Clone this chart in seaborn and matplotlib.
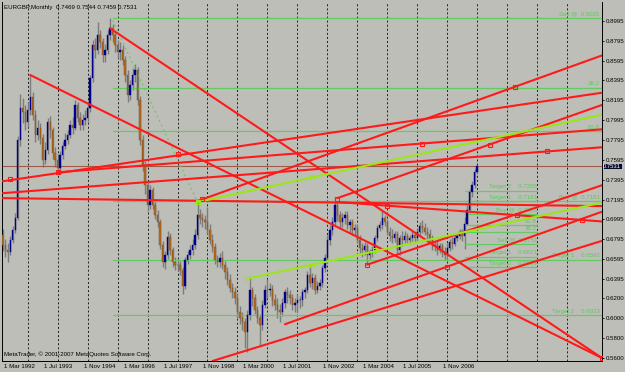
import numpy as np
import pandas as pd
import seaborn as sns
import matplotlib.pyplot as plt
import matplotlib.transforms as mtransforms

# ---- monthly EURGBP bars, Mar 1992 .. Jan 2008 ----
first_month = "1992-03"
first_open = 0.684

closes = [
    0.674, 0.669, 0.667, 0.679, 0.689, 0.701, 0.780, 0.812, 0.808, 0.798,                 # 1992
    0.810, 0.823, 0.805, 0.785, 0.792, 0.782, 0.759, 0.769, 0.798, 0.790, 0.766, 0.759,   # 1993
    0.751, 0.764, 0.774, 0.780, 0.785, 0.795, 0.792, 0.815, 0.802, 0.795, 0.800, 0.802,   # 1994
    0.812, 0.842, 0.875, 0.870, 0.885, 0.878, 0.865, 0.870, 0.885, 0.892, 0.885, 0.875,   # 1995
    0.868, 0.870, 0.860, 0.845, 0.825, 0.835, 0.845, 0.850, 0.820, 0.780, 0.754, 0.734,   # 1996
    0.714, 0.729, 0.714, 0.704, 0.697, 0.674, 0.657, 0.664, 0.682, 0.669, 0.657, 0.654,   # 1997
    0.654, 0.649, 0.633, 0.659, 0.664, 0.669, 0.674, 0.684, 0.704, 0.701, 0.699, 0.697,   # 1998
    0.689, 0.679, 0.672, 0.659, 0.657, 0.661, 0.654, 0.647, 0.639, 0.631, 0.626, 0.620,   # 1999
    0.606, 0.600, 0.596, 0.586, 0.603, 0.628, 0.620, 0.608, 0.600, 0.593, 0.613, 0.628,   # 2000
    0.628, 0.630, 0.618, 0.613, 0.608, 0.606, 0.615, 0.626, 0.623, 0.620, 0.613, 0.615,   # 2001
    0.618, 0.618, 0.626, 0.628, 0.644, 0.636, 0.641, 0.628, 0.633, 0.636, 0.651, 0.661,   # 2002
    0.679, 0.689, 0.697, 0.714, 0.704, 0.697, 0.701, 0.704, 0.694, 0.697, 0.689, 0.691,   # 2003
    0.679, 0.671, 0.669, 0.673, 0.664, 0.667, 0.669, 0.681, 0.691, 0.694, 0.701, 0.697,   # 2004
    0.687, 0.683, 0.681, 0.685, 0.669, 0.681, 0.679, 0.683, 0.679, 0.681, 0.684, 0.681,   # 2005
    0.687, 0.693, 0.691, 0.687, 0.685, 0.679, 0.673, 0.674, 0.669, 0.673, 0.667, 0.664,   # 2006
    0.671, 0.677, 0.675, 0.681, 0.683, 0.687, 0.683, 0.695, 0.709, 0.727, 0.734, 0.747,   # 2007
    0.7531,                                                                               # 2008
]
highs = [
    0.690, 0.680, 0.676, 0.683, 0.693, 0.706, 0.784, 0.826, 0.822, 0.815,
    0.818, 0.845, 0.828, 0.810, 0.800, 0.797, 0.786, 0.778, 0.802, 0.804, 0.793, 0.772,
    0.765, 0.768, 0.778, 0.787, 0.790, 0.800, 0.803, 0.820, 0.818, 0.808, 0.806, 0.810,
    0.818, 0.845, 0.880, 0.882, 0.898, 0.890, 0.882, 0.876, 0.890, 0.902, 0.896, 0.888,
    0.880, 0.878, 0.875, 0.864, 0.850, 0.840, 0.852, 0.856, 0.853, 0.824, 0.785, 0.758,
    0.738, 0.734, 0.732, 0.718, 0.709, 0.700, 0.678, 0.668, 0.688, 0.686, 0.672, 0.662,
    0.660, 0.658, 0.652, 0.662, 0.668, 0.674, 0.680, 0.690, 0.718, 0.710, 0.706, 0.704,
    0.712, 0.695, 0.685, 0.676, 0.664, 0.666, 0.668, 0.658, 0.652, 0.645, 0.636, 0.632,
    0.625, 0.612, 0.606, 0.600, 0.608, 0.641, 0.632, 0.624, 0.612, 0.604, 0.618, 0.634,
    0.640, 0.636, 0.634, 0.624, 0.620, 0.614, 0.620, 0.630, 0.632, 0.628, 0.624, 0.620,
    0.624, 0.622, 0.630, 0.632, 0.648, 0.655, 0.646, 0.645, 0.638, 0.640, 0.654, 0.665,
    0.684, 0.694, 0.702, 0.722, 0.718, 0.708, 0.706, 0.708, 0.708, 0.700, 0.700, 0.695,
    0.695, 0.684, 0.676, 0.677, 0.676, 0.670, 0.673, 0.684, 0.694, 0.698, 0.708, 0.704,
    0.700, 0.692, 0.690, 0.688, 0.688, 0.684, 0.688, 0.688, 0.686, 0.684, 0.688, 0.687,
    0.690, 0.697, 0.699, 0.696, 0.692, 0.690, 0.684, 0.678, 0.678, 0.676, 0.676, 0.672,
    0.676, 0.680, 0.682, 0.684, 0.686, 0.690, 0.690, 0.702, 0.714, 0.730, 0.738, 0.750,
    0.7544,
]
lows = [
    0.668, 0.662, 0.657, 0.664, 0.676, 0.686, 0.699, 0.774, 0.797, 0.790,
    0.793, 0.805, 0.800, 0.778, 0.780, 0.776, 0.752, 0.755, 0.765, 0.782, 0.760, 0.752,
    0.745, 0.748, 0.760, 0.770, 0.776, 0.782, 0.786, 0.790, 0.798, 0.790, 0.790, 0.795,
    0.798, 0.808, 0.838, 0.862, 0.866, 0.872, 0.858, 0.858, 0.866, 0.880, 0.878, 0.868,
    0.862, 0.860, 0.855, 0.838, 0.818, 0.820, 0.830, 0.838, 0.815, 0.775, 0.748, 0.725,
    0.708, 0.710, 0.710, 0.700, 0.692, 0.670, 0.652, 0.650, 0.660, 0.664, 0.652, 0.649,
    0.648, 0.644, 0.624, 0.630, 0.655, 0.660, 0.664, 0.670, 0.680, 0.695, 0.692, 0.690,
    0.685, 0.675, 0.667, 0.655, 0.652, 0.652, 0.650, 0.640, 0.634, 0.626, 0.620, 0.614,
    0.600, 0.594, 0.588, 0.570, 0.566, 0.598, 0.612, 0.604, 0.595, 0.573, 0.588, 0.610,
    0.620, 0.622, 0.612, 0.608, 0.600, 0.596, 0.602, 0.610, 0.615, 0.614, 0.608, 0.606,
    0.606, 0.610, 0.612, 0.620, 0.625, 0.632, 0.630, 0.624, 0.625, 0.628, 0.632, 0.647,
    0.656, 0.674, 0.684, 0.694, 0.698, 0.690, 0.692, 0.695, 0.690, 0.686, 0.684, 0.684,
    0.676, 0.666, 0.662, 0.664, 0.656, 0.660, 0.662, 0.666, 0.678, 0.688, 0.690, 0.693,
    0.684, 0.678, 0.676, 0.677, 0.666, 0.664, 0.673, 0.676, 0.676, 0.675, 0.678, 0.676,
    0.677, 0.683, 0.686, 0.684, 0.680, 0.676, 0.669, 0.668, 0.664, 0.666, 0.662, 0.659,
    0.660, 0.668, 0.670, 0.673, 0.678, 0.680, 0.678, 0.670, 0.694, 0.706, 0.722, 0.731,
    0.7459,
]
last_open = 0.7469

# ---- drawn objects (anchor dates / prices) ----
red_from_date = ["1993-02", "1995-10", "1992-03", "1994-01", "1992-03", "1992-03",
                 "1998-09", "2003-05", "1999-03", "2001-08", "2004-05", "2003-05"]
red_from_price = [0.845, 0.892, 0.738, 0.747, 0.726, 0.721,
                  0.718, 0.721, 0.557, 0.594, 0.654, 0.7171]
red_to_date = ["2012-03", "2012-03", "1998-01", "2006-03", "2010-05", "2012-03",
               "2009-04", "2008-06", "2012-03", "2007-01", "2012-03", "2011-07"]
red_to_price = [0.560, 0.560, 0.764, 0.776, 0.768, 0.713,
                0.833, 0.775, 0.678, 0.652, 0.734, 0.6990]
red_ray = [False, False, True, True, True, False, True, True, False, True, False, True]

lime_from_date = ["1998-09", "2000-05"]
lime_from_price = [0.717, 0.640]
lime_to_date = ["2002-07", "2002-07"]
lime_to_price = [0.742, 0.654]

dotted_dates = ["1995-11", "1998-09"]
dotted_prices = [0.900, 0.717]

red_marker_dates = ["1992-06", "1994-01", "1998-01", "1998-11", "2003-05", "2005-01", "2006-03",
                    "2008-06", "2009-04", "2010-05", "2004-05", "2007-01", "2009-05", "2011-07", "2012-03"]
red_marker_prices = [0.740, 0.747, 0.765, 0.720, 0.720, 0.7134, 0.776,
                     0.775, 0.833, 0.768, 0.654, 0.652, 0.7038, 0.6990, 0.560]
lime_marker_dates = ["1998-09", "2002-07", "2006-05", "2000-05", "2002-07", "2004-08"]
lime_marker_prices = [0.717, 0.742, 0.766, 0.640, 0.654, 0.669]

levels_long = [0.9025, 0.8320, 0.7885, 0.7181, 0.6592, 0.6033]
labels_long = ["Sell @  0.9025", "38.2", "61.8", "Buy @  0.7181", "Target 1    0.6592", "Target 2    0.6033"]
levels_short = [0.7285, 0.7183, 0.7053, 0.6938, 0.6866, 0.6751, 0.6621, 0.6519]
labels_short = ["Target 2    0.7285", "Target 1    0.7183", "Buy @  0.7053", "61.8", "38.2",
                "Sell @  0.6751", "Target 1    0.6621", "Target 2    0.6519"]

price_ticks = [0.8995, 0.8795, 0.8595, 0.8395, 0.8195, 0.7995, 0.7795, 0.7595, 0.7395,
               0.7195, 0.6995, 0.6795, 0.6595, 0.6395, 0.6200, 0.6000, 0.5800, 0.5600]
date_labels = ["1 Mar 1992", "1 Jul 1993", "1 Nov 1994", "1 Mar 1996", "1 Jul 1997", "1 Nov 1998",
               "1 Mar 2000", "1 Jul 2001", "1 Nov 2002", "1 Mar 2004", "1 Jul 2005", "1 Nov 2006"]


def midx(s):
    # months since Mar 1992
    y, m = s.split("-")
    return (int(y) - 1992) * 12 + int(m) - 3


BG = "#bebeb8"
sns.set_style("white", {"axes.facecolor": BG, "figure.facecolor": BG})
plt.rcParams["font.family"] = ["Liberation Sans", "DejaVu Sans"]

fig = plt.figure(figsize=(6.25, 3.72), dpi=100)
ax = fig.add_axes([2 / 625, 11 / 372, 600 / 625, 359 / 372])
XMAX = 240
ax.set_xlim(-0.3, XMAX)
ax.set_ylim(0.5570, 0.9185)

c = np.array(closes)
h = np.array(highs)
l = np.array(lows)
o = np.concatenate([[first_open], c[:-2], [last_open]])
x = np.arange(len(c))

# candles
ax.vlines(x, l, h, color="#7c7c7c", lw=1.0, zorder=2)
up = c >= o
ax.bar(x[up], (c - o)[up], bottom=o[up], width=0.55, color="#00008c", edgecolor="#00008c", lw=0.3, zorder=3)
ax.bar(x[~up], (o - c)[~up], bottom=c[~up], width=0.55, color="#b86a1e", edgecolor="#7a4a1a", lw=0.3, zorder=3)

# yearly dotted grid
jan = [midx(f"{y}-01") for y in range(1993, 2012)]
ax.set_xticks(jan, minor=True)
ax.grid(which="minor", axis="x", color="#1e1e1e", ls=(0, (2, 2.2)), lw=0.7)
ax.tick_params(axis="x", which="minor", length=0)

# bid line
ax.axhline(closes[-1], color="#a05a4a", lw=0.8, zorder=2)

# long green levels
x0 = midx("1995-11")
for lv, lab in zip(levels_long, labels_long):
    ax.plot([x0, XMAX], [lv, lv], color="#62cc62", lw=0.9, zorder=2)
    ax.text(XMAX - 1, lv + 0.0015, lab, color="#5cc85c", fontsize=4.4, ha="right", va="bottom")

# short green levels
xs0, xs1 = midx("2007-08"), midx("2010-01")
for lv, lab in zip(levels_short, labels_short):
    ax.plot([xs0, xs1], [lv, lv], color="#62cc62", lw=0.9, zorder=2)
    ax.text(xs1, lv + 0.0012, lab, color="#5cc85c", fontsize=4.4, ha="right", va="bottom")

# dotted green from 1995 top
sns.lineplot(x=[midx(d) for d in dotted_dates], y=dotted_prices, ax=ax, color="#62cc62",
             lw=0.9, ls=(0, (1.5, 2.5)), zorder=2)


def seg(d1, p1, d2, p2, ray):
    m1, m2 = midx(d1), midx(d2)
    if ray:
        p2 = p1 + (p2 - p1) / (m2 - m1) * (XMAX - m1)
        m2 = XMAX
    return pd.DataFrame({"m": [m1, m2], "p": [p1, p2]})


for d1, p1, d2, p2, r in zip(red_from_date, red_from_price, red_to_date, red_to_price, red_ray):
    df = seg(d1, p1, d2, p2, r)
    sns.lineplot(data=df, x="m", y="p", ax=ax, color="#ff1a1a", lw=1.5, zorder=4)

for d1, p1, d2, p2 in zip(lime_from_date, lime_from_price, lime_to_date, lime_to_price):
    df = seg(d1, p1, d2, p2, True)
    sns.lineplot(data=df, x="m", y="p", ax=ax, color="#99e619", lw=1.5, zorder=4)

ax.plot([midx(d) for d in red_marker_dates], red_marker_prices, ls="none", marker="s", ms=3,
        mfc="none", mec="#ff1a1a", mew=0.8, zorder=5)
ax.plot([midx(d) for d in lime_marker_dates], lime_marker_prices, ls="none", marker="s", ms=3,
        mfc="none", mec="#99e619", mew=0.8, zorder=5)

# axes
ax.set_xlabel("")
ax.set_ylabel("")
ax.yaxis.tick_right()
ax.set_yticks(price_ticks)
ax.set_yticklabels([f"{t:.4f}" for t in price_ticks])
ax.set_xticks(np.arange(len(date_labels)) * 16)
ax.set_xticklabels(date_labels, ha="left")
ax.tick_params(axis="both", which="major", length=1.5, width=0.6, pad=1.0, labelsize=4.4,
               colors="black", direction="out")
for lab in ax.get_xticklabels():
    lab.set_transform(lab.get_transform() + mtransforms.ScaledTranslation(1 / 100, 0, fig.dpi_scale_trans))
for side in ["left", "bottom", "right"]:
    ax.spines[side].set_color("black")
    ax.spines[side].set_linewidth(0.7)
ax.spines["top"].set_visible(False)

# current price box
ax.text(1.002, closes[-1], "0.7531", transform=mtransforms.blended_transform_factory(ax.transAxes, ax.transData),
        fontsize=4.2, color="white", va="center", ha="left",
        bbox=dict(boxstyle="square,pad=0.1", fc="#0a0a30", ec="white", lw=0.4))

ax.text(0.004, 0.993, "EURGBP,Monthly  0.7469 0.7544 0.7459 0.7531", transform=ax.transAxes,
        fontsize=4.4, va="top", ha="left", color="black")
ax.text(0.004, 0.012, "MetaTrader, \u00a9 2001-2007 MetaQuotes Software Corp.", transform=ax.transAxes,
        fontsize=4.4, va="bottom", ha="left", color="black")

fig.savefig("out.png", dpi=100, facecolor=BG)
